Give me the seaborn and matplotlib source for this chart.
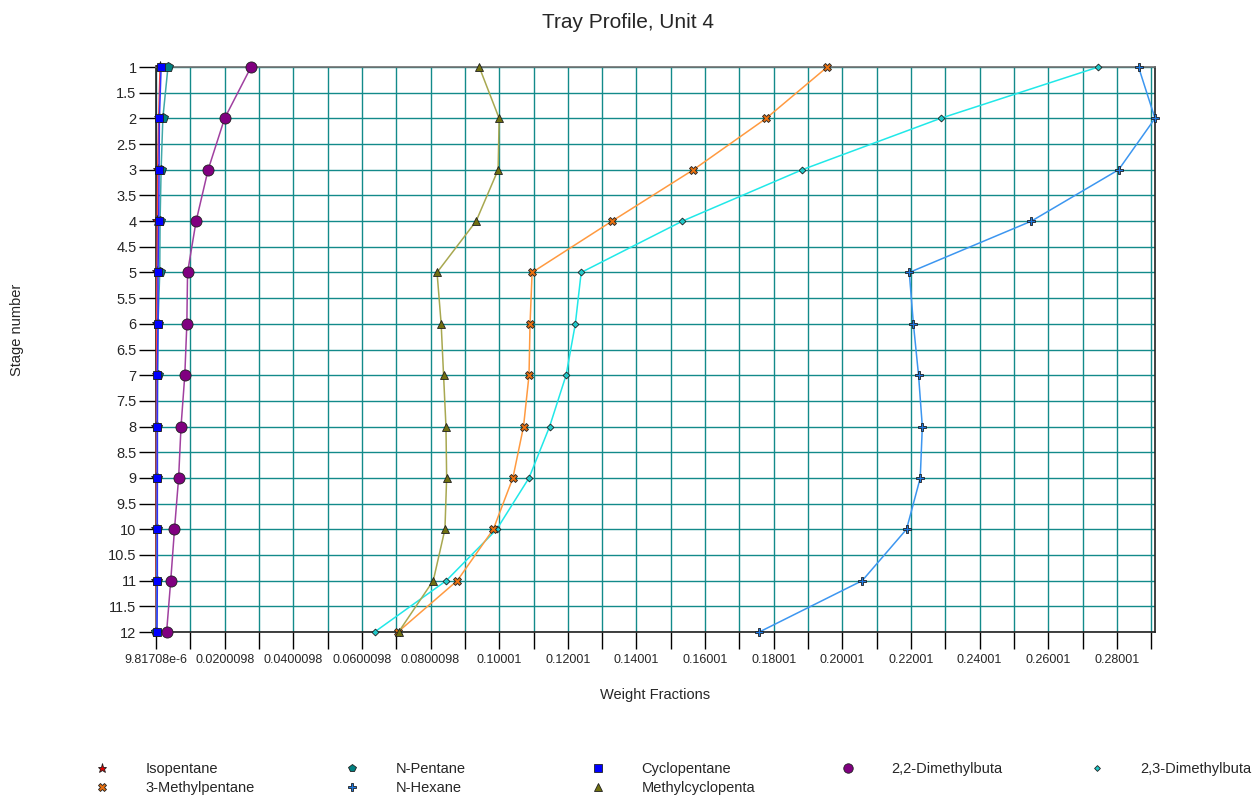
import numpy as np
import pandas as pd
import matplotlib
matplotlib.use("Agg")
import matplotlib.pyplot as plt
import seaborn as sns
from matplotlib.lines import Line2D

stages = list(range(1, 13))

isopentane = [0.0012, 0.0008, 0.0005, 0.0004, 0.0003, 0.0002, 0.0002, 0.00015, 0.0001, 0.0001, 0.00005, 0.00003]
n_pentane = [0.0035, 0.0020, 0.0015, 0.0012, 0.0011, 0.0006, 0.0005, 0.0004, 0.0004, 0.0003, 0.0002, 0.0001]
cyclopentane = [0.0015, 0.0010, 0.0009, 0.0008, 0.0006, 0.0006, 0.0004, 0.0004, 0.0004, 0.0004, 0.0004, 0.0003]
dmb22 = [0.0277, 0.0200, 0.0152, 0.0117, 0.0092, 0.0090, 0.0084, 0.0073, 0.0066, 0.0054, 0.0043, 0.0031]
dmb23 = [0.2746, 0.2286, 0.1883, 0.1534, 0.1239, 0.1222, 0.1195, 0.1147, 0.1087, 0.0993, 0.0846, 0.0637]
methylpentane3 = [0.1956, 0.1778, 0.1566, 0.1329, 0.1096, 0.1090, 0.1087, 0.1071, 0.1040, 0.0983, 0.0878, 0.0705]
n_hexane = [0.2863, 0.2911, 0.2805, 0.2551, 0.2195, 0.2207, 0.2222, 0.2233, 0.2227, 0.2187, 0.2058, 0.1758]
mcp = [0.0942, 0.1000, 0.0997, 0.0933, 0.0819, 0.0831, 0.0838, 0.0845, 0.0847, 0.0842, 0.0808, 0.0707]

names = ["Isopentane", "N-Pentane", "Cyclopentane", "2,2-Dimethylbuta", "2,3-Dimethylbuta",
         "3-Methylpentane", "N-Hexane", "Methylcyclopenta"]
series = [isopentane, n_pentane, cyclopentane, dmb22, dmb23, methylpentane3, n_hexane, mcp]

x_min = 9.81708e-6
x_max = 0.2911
x_tick_labels = ["9.81708e-6", "0.0200098", "0.0400098", "0.0600098", "0.0800098", "0.10001",
                 "0.12001", "0.14001", "0.16001", "0.18001", "0.20001", "0.22001", "0.24001",
                 "0.26001", "0.28001"]

# style per component: line colour, marker, marker face, size
styles = {
    "Isopentane": ("#ff4040", "*", "#e00000", 8),
    "N-Pentane": ("#40a8a8", "p", "#008080", 7),
    "Cyclopentane": ("#3030ff", "s", "#0000ff", 6),
    "2,2-Dimethylbuta": ("#a040a0", "o", "#800080", 8),
    "2,3-Dimethylbuta": ("#20e8e8", "D", "#20c8c8", 3.5),
    "3-Methylpentane": ("#ff9a40", "X", "#e87010", 6),
    "N-Hexane": ("#3c96f0", "P", "#1e78e0", 6),
    "Methylcyclopenta": ("#a8a850", "^", "#707010", 6),
}

rows = []
for name, vals in zip(names, series):
    for s, v in zip(stages, vals):
        rows.append({"Component": name, "Stage": s, "Fraction": v})
df = pd.DataFrame(rows)

sns.set_style("white")
plt.rcParams["font.family"] = ["Liberation Sans", "DejaVu Sans"]

fig = plt.figure(figsize=(12.55, 7.95), dpi=100)
ax = fig.add_axes([156 / 1255, 1 - 632 / 795, (1155 - 156) / 1255, (632 - 67) / 795])

for name in names:
    lc, mk, fc, ms = styles[name]
    sub = df[df["Component"] == name]
    sns.lineplot(data=sub, x="Fraction", y="Stage", ax=ax, sort=False, estimator=None,
                 color=lc, linewidth=1.1, marker=mk, markersize=ms,
                 markerfacecolor=fc, markeredgecolor="#202020", markeredgewidth=0.6,
                 zorder=3, clip_on=False)

ax.set_xlim(x_min, x_max)
ax.set_ylim(12, 1)

minor = x_min + 0.01 * np.arange(0, 30)
minor = minor[minor <= x_max]
ax.set_xticks(minor)
ax.set_xticklabels([x_tick_labels[i // 2] if i % 2 == 0 else "" for i in range(len(minor))])
ax.set_yticks(np.arange(1, 12.01, 0.5))
ax.set_yticklabels([f"{v:g}" for v in np.arange(1, 12.01, 0.5)])

ax.grid(True, color="#138a8a", linewidth=1.0)
ax.set_axisbelow(True)
ax.tick_params(axis="both", which="major", bottom=True, left=True, length=12, width=1,
               color="black", direction="out")
ax.tick_params(axis="x", labelsize=9, pad=4)
ax.tick_params(axis="y", labelsize=10.5, pad=2)
for lab in ax.get_xticklabels():
    lab.set_family(["Liberation Sans Narrow", "Liberation Sans"])

for side in ["left", "bottom"]:
    ax.spines[side].set_color("#202020")
ax.spines["top"].set_color("#707070")
ax.spines["right"].set_color("#202020")
for sp in ax.spines.values():
    sp.set_linewidth(1.2)

ax.set_xlabel("Weight Fractions", fontsize=10.5, labelpad=16)
ax.set_ylabel("")
fig.text(17 / 1255, 1 - 330 / 795, "Stage number", rotation=90, fontsize=10.5,
         ha="center", va="center")
fig.suptitle("Tray Profile, Unit 4", fontsize=15, y=1 - 22 / 795, va="center")

# legend: five columns, filled row by row
leg_cols = [["Isopentane", "3-Methylpentane"], ["N-Pentane", "N-Hexane"],
            ["Cyclopentane", "Methylcyclopenta"], ["2,2-Dimethylbuta"], ["2,3-Dimethylbuta"]]
col_x = [102, 352, 598, 848, 1097]
for cx, col in zip(col_x, leg_cols):
    handles = []
    for name in col:
        lc, mk, fc, ms = styles[name]
        handles.append(Line2D([], [], linestyle="none", marker=mk, markersize=ms * 0.85,
                              markerfacecolor=fc, markeredgecolor="#202020",
                              markeredgewidth=0.6))
    leg = fig.legend(handles, col, loc="upper left",
                     bbox_to_anchor=((cx - 6) / 1255, 1 - 762 / 795),
                     frameon=False, fontsize=10.5, handlelength=0.8, handletextpad=2.6,
                     borderpad=0, borderaxespad=0, labelspacing=0.35)

fig.savefig("out.png", dpi=100)
